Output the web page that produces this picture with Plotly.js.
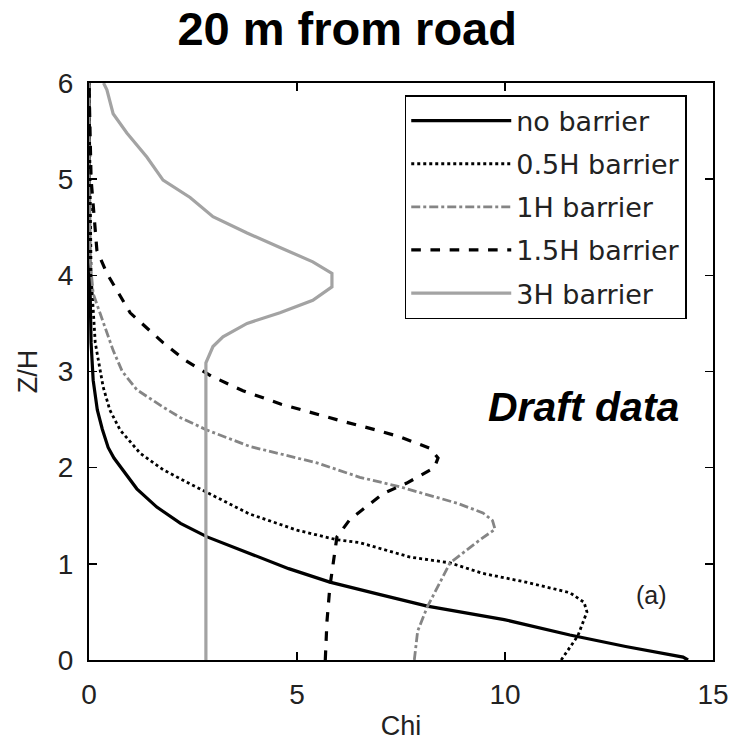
<!DOCTYPE html>
<html>
<head>
<meta charset="utf-8">
<script src="https://cdn.plot.ly/plotly-3.0.1.min.js"></script>
<style>html,body{margin:0;padding:0;background:#fff}#chart{width:731px;height:744px}</style>
</head>
<body>
<div id="chart"></div>
<script>
// Series: Chi (x) vs Z/H (y)
const noBarrierX = [14.4, 14.28, 12.9, 11.56, 9.98, 8.13, 7.0, 5.79, 4.8, 3.87, 2.84, 2.2, 1.63, 1.15, 0.82, 0.6, 0.46, 0.32, 0.2, 0.10, 0.05, 0.02, 0.0];
const noBarrierY = [0.0, 0.03, 0.14, 0.26, 0.42, 0.56, 0.68, 0.81, 0.95, 1.11, 1.28, 1.42, 1.59, 1.78, 1.98, 2.1, 2.21, 2.4, 2.6, 2.91, 3.3, 4.0, 6.0];

const halfHX = [11.35, 11.75, 11.97, 11.9, 11.56, 10.5, 9.47, 8.68, 7.72, 6.51, 5.96, 5.0, 3.85, 2.84, 2.3, 1.78, 1.23, 0.75, 0.5, 0.34, 0.15, 0.05, 0.0];
const halfHY = [0.0, 0.25, 0.5, 0.6, 0.70, 0.81, 0.90, 1.01, 1.07, 1.22, 1.25, 1.35, 1.52, 1.74, 1.86, 1.98, 2.15, 2.39, 2.6, 2.84, 3.3, 4.0, 6.0];

const oneHX = [7.82, 7.9, 8.13, 8.68, 9.4, 9.76, 9.7, 9.47, 8.85, 7.48, 6.51, 5.48, 3.87, 2.84, 2.2, 1.78, 1.15, 0.8, 0.58, 0.26, 0.1, 0.02, 0.0];
const oneHY = [0.0, 0.3, 0.55, 1.01, 1.25, 1.36, 1.45, 1.53, 1.63, 1.80, 1.90, 2.05, 2.22, 2.39, 2.52, 2.63, 2.81, 3.0, 3.22, 3.6, 3.81, 4.2, 6.0];

const oneHalfHX = [5.68, 5.72, 5.79, 5.96, 6.27, 7.07, 7.64, 8.3, 8.39, 8.2, 7.48, 6.92, 6.03, 4.62, 3.7, 2.95, 2.3, 1.78, 0.99, 0.43, 0.19, 0.05, 0.0];
const oneHalfHY = [0.0, 0.4, 0.76, 1.28, 1.46, 1.73, 1.84, 2.0, 2.1, 2.2, 2.32, 2.39, 2.49, 2.66, 2.8, 2.95, 3.12, 3.30, 3.61, 4.02, 4.26, 5.0, 6.0];

const threeHX = [2.81, 2.81, 2.81, 2.98, 3.22, 3.80, 4.59, 5.38, 5.84, 5.84, 5.38, 4.59, 3.80, 2.98, 2.43, 1.78, 1.39, 0.91, 0.58, 0.43, 0.35];
const threeHY = [0.0, 1.5, 3.09, 3.26, 3.36, 3.50, 3.61, 3.74, 3.88, 4.02, 4.14, 4.29, 4.44, 4.61, 4.81, 4.99, 5.23, 5.48, 5.68, 5.93, 6.0];

const seriesNames = ['no barrier', '0.5H barrier', '1H barrier', '1.5H barrier', '3H barrier'];
const xTicks = [0, 5, 10, 15];
const yTicks = [0, 1, 2, 3, 4, 5, 6];

const font = 'Liberation Sans, Arial, Helvetica, sans-serif';
const legendFont = 'DejaVu Sans, Liberation Sans, sans-serif';

const styles = [
  {color: '#000000', width: 3.2},
  {color: '#000000', width: 2.8, dash: 'dot'},
  {color: '#858585', width: 2.8, dash: 'dashdot'},
  {color: '#000000', width: 3.2, dash: 'dash'},
  {color: '#a3a3a3', width: 3.2}
];
const xs = [noBarrierX, halfHX, oneHX, oneHalfHX, threeHX];
const ys = [noBarrierY, halfHY, oneHY, oneHalfHY, threeHY];

const traces = seriesNames.map((n, i) => ({
  x: xs[i], y: ys[i], name: n, legendgroup: 'g' + i, mode: 'lines', line: styles[i]
}));

const layout = {
  width: 731, height: 744,
  margin: {l: 89, r: 18, t: 83, b: 84},
  paper_bgcolor: '#fff', plot_bgcolor: '#fff',
  font: {family: font, color: '#000', size: 26},
  title: {text: '<b>20 m from road</b>', font: {family: font, size: 47, color: '#000'}, x: 0.475, xanchor: 'center', y: 0.962, yanchor: 'middle'},
  xaxis: {
    range: [0, 15], tickvals: xTicks, ticks: 'inside', ticklen: 8, tickwidth: 1.5, tickcolor: '#000',
    showline: true, linecolor: '#000', linewidth: 2, mirror: 'ticks', showgrid: false, zeroline: false,
    tickfont: {size: 28, color: '#222'}, ticklabelstandoff: 8,
    title: {text: 'Chi', font: {size: 27, color: '#222'}, standoff: 8}
  },
  yaxis: {
    range: [0, 6], tickvals: yTicks, ticks: 'inside', ticklen: 8, tickwidth: 1.5, tickcolor: '#000',
    showline: true, linecolor: '#000', linewidth: 2, mirror: 'ticks', showgrid: false, zeroline: false,
    tickfont: {size: 28, color: '#222'}, ticklabelstandoff: 8,
    title: {text: 'Z/H', font: {size: 27, color: '#222'}, standoff: 12}
  },
  showlegend: true,
  legend: {
    x: 0.506, y: 0.979, xanchor: 'left', yanchor: 'top',
    bordercolor: '#000', borderwidth: 1.5, bgcolor: '#fff',
    font: {size: 27, color: '#222', family: legendFont}, itemwidth: 100, tracegroupgap: 5,
    traceorder: 'grouped'
  },
  annotations: [
    {xref: 'paper', yref: 'paper', x: 0.793, y: 0.438, xanchor: 'center', yanchor: 'middle', showarrow: false,
     text: '<b><i>Draft data</i></b>', font: {size: 41, color: '#000', family: font}},
    {xref: 'paper', yref: 'paper', x: 0.901, y: 0.113, xanchor: 'center', yanchor: 'middle', showarrow: false,
     text: '(a)', font: {size: 25, color: '#222', family: font}}
  ]
};

Plotly.newPlot('chart', traces, layout, {displayModeBar: false, staticPlot: true});
</script>
</body>
</html>
